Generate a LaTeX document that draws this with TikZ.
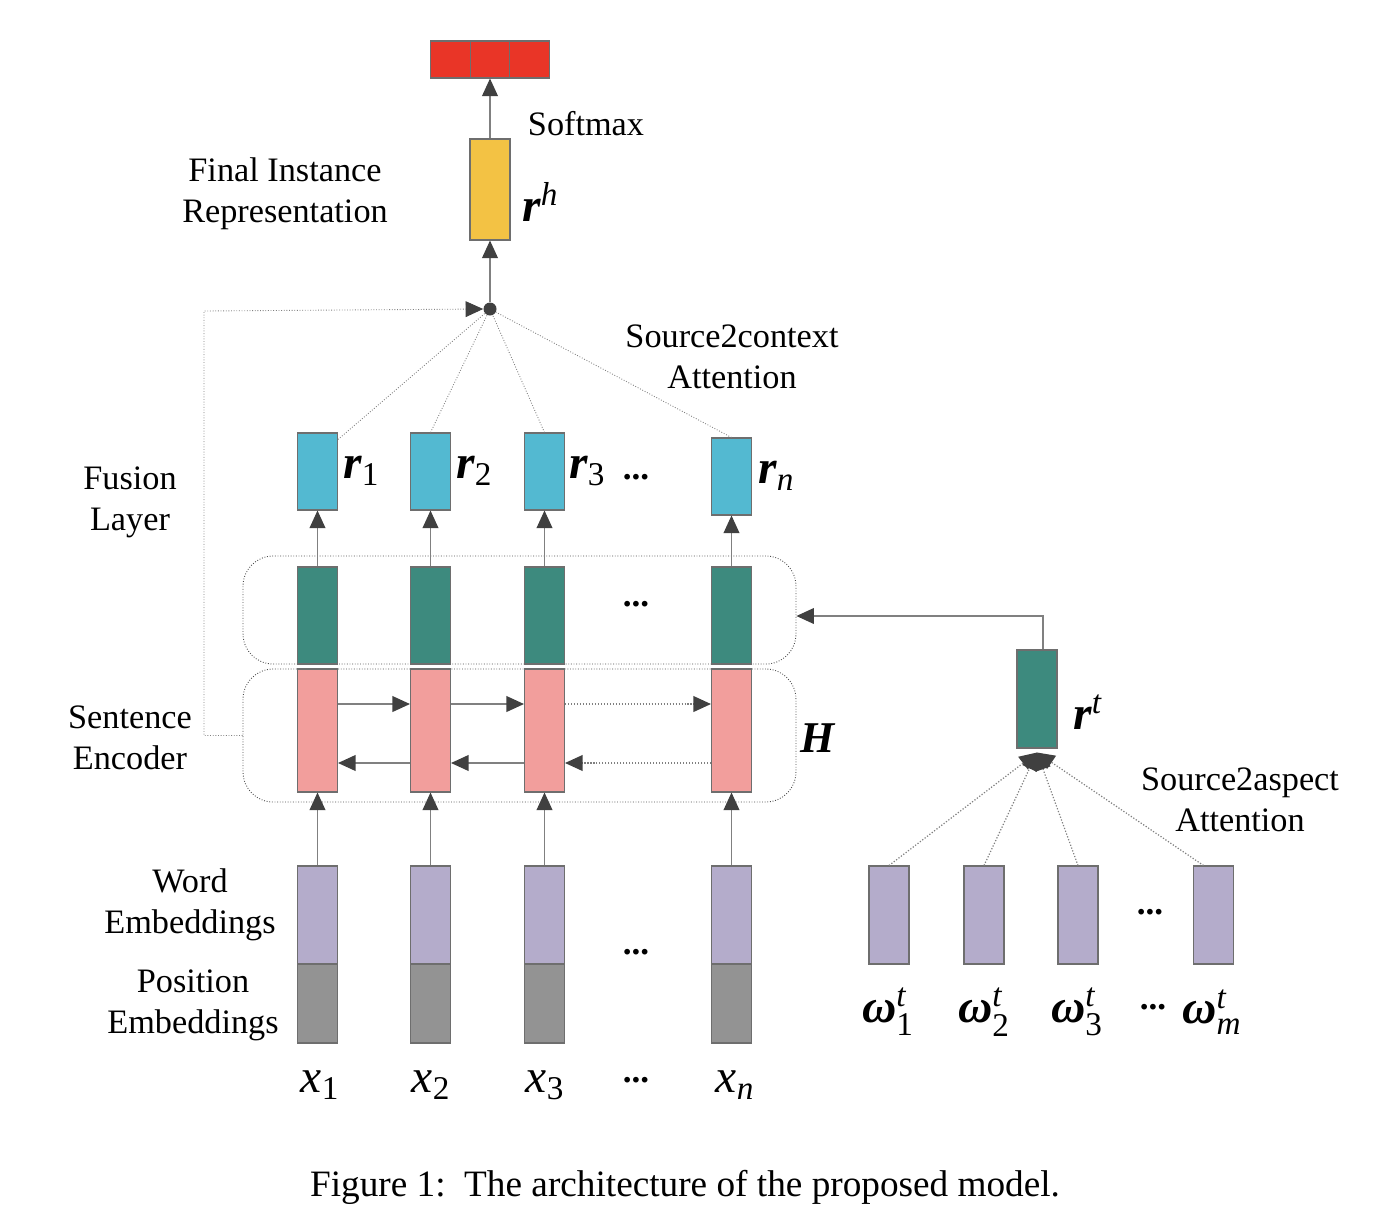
\documentclass[tikz,border=0pt]{standalone}
\usepackage{amsmath}
\usepackage{fontspec}
\setmainfont{Liberation Serif}
\usetikzlibrary{arrows.meta}

\definecolor{outred}{RGB}{233,53,39}
\definecolor{repyellow}{RGB}{243,194,68}
\definecolor{fuseblue}{RGB}{83,185,209}
\definecolor{fuseteal}{RGB}{61,138,126}
\definecolor{encpink}{RGB}{242,158,156}
\definecolor{embpurple}{RGB}{180,172,203}
\definecolor{posgray}{RGB}{147,147,147}
\definecolor{edgegray}{RGB}{110,110,110}
\definecolor{linegray}{RGB}{128,128,128}
\definecolor{tipgray}{RGB}{64,64,64}

\newcommand{\symsub}[2]{$\text{\bfseries\itshape #1}_{\text{#2}}$}
\newcommand{\symsup}[2]{$\text{\bfseries\itshape #1}^{\text{\itshape #2}}$}
\newcommand{\symboth}[3]{$\text{\bfseries\itshape #1}^{\text{\itshape #2}}_{\text{#3}}$}
\newcommand{\symx}[1]{$\text{\itshape x}_{\text{#1}}$}

\tikzset{
  cell/.style={draw=edgegray, line width=0.6pt, minimum width=0.8cm, inner sep=0pt},
  arr/.style={draw=linegray, line width=0.7pt, -{Triangle[length=10pt,width=9pt,color=tipgray]}},
  attn/.style={draw=linegray, line width=0.5pt, densely dotted},
  groupbox/.style={draw=black!70, line width=0.5pt, densely dotted, rounded corners=0.6cm, inner sep=0pt},
  lbl/.style={font=\fontsize{19.5}{23.3}\selectfont, align=center, inner sep=0pt},
  sym/.style={font=\fontsize{27}{30}\selectfont, inner sep=0pt},
  gap/.style={font=\fontsize{20}{20}\selectfont\bfseries, inner sep=0pt}
}

\begin{document}
\begin{tikzpicture}[x=0.02cm, y=-0.02cm]
    \useasboundingbox (0,0) rectangle (1392,1224);

    % grouping boxes
    \node[groupbox, minimum width=11.06cm, minimum height=2.16cm] (fusbox) at (519.5,610) {};
    \node[groupbox, minimum width=11.06cm, minimum height=2.66cm] (encbox) at (519.5,735.5) {};

    % softmax output
    \node[cell, fill=outred, minimum width=0.79cm, minimum height=0.74cm] (out1) at (450.5,59.5) {};
    \node[cell, fill=outred, minimum width=0.79cm, minimum height=0.74cm] (out2) at (490,59.5) {};
    \node[cell, fill=outred, minimum width=0.79cm, minimum height=0.74cm] (out3) at (529.5,59.5) {};

    % final instance representation
    \node[cell, fill=repyellow, minimum height=2.02cm] (rh) at (490,189.5) {};
    \node[circle, fill=tipgray, minimum size=0.26cm, inner sep=0pt] (dot) at (490,309) {};

    % fusion layer outputs
    \node[cell, fill=fuseblue, minimum height=1.54cm] (r1) at (317.5,471.5) {};
    \node[cell, fill=fuseblue, minimum height=1.54cm] (r2) at (430.5,471.5) {};
    \node[cell, fill=fuseblue, minimum height=1.54cm] (r3) at (544.5,471.5) {};
    \node[cell, fill=fuseblue, minimum height=1.54cm] (rn) at (731.5,476.5) {};

    % fusion layer
    \node[cell, fill=fuseteal, minimum height=1.94cm] (f1) at (317.5,615.5) {};
    \node[cell, fill=fuseteal, minimum height=1.94cm] (f2) at (430.5,615.5) {};
    \node[cell, fill=fuseteal, minimum height=1.94cm] (f3) at (544.5,615.5) {};
    \node[cell, fill=fuseteal, minimum height=1.94cm] (fn) at (731.5,615.5) {};

    % sentence encoder
    \node[cell, fill=encpink, minimum height=2.46cm] (h1) at (317.5,730.5) {};
    \node[cell, fill=encpink, minimum height=2.46cm] (h2) at (430.5,730.5) {};
    \node[cell, fill=encpink, minimum height=2.46cm] (h3) at (544.5,730.5) {};
    \node[cell, fill=encpink, minimum height=2.46cm] (hn) at (731.5,730.5) {};

    % word and position embeddings
    \node[cell, fill=embpurple, minimum height=1.96cm] (e1) at (317.5,915) {};
    \node[cell, fill=embpurple, minimum height=1.96cm] (e2) at (430.5,915) {};
    \node[cell, fill=embpurple, minimum height=1.96cm] (e3) at (544.5,915) {};
    \node[cell, fill=embpurple, minimum height=1.96cm] (en) at (731.5,915) {};
    \node[cell, fill=posgray, minimum height=1.58cm] (p1) at (317.5,1003.5) {};
    \node[cell, fill=posgray, minimum height=1.58cm] (p2) at (430.5,1003.5) {};
    \node[cell, fill=posgray, minimum height=1.58cm] (p3) at (544.5,1003.5) {};
    \node[cell, fill=posgray, minimum height=1.58cm] (pn) at (731.5,1003.5) {};

    % aspect side
    \node[cell, fill=fuseteal, minimum height=1.96cm] (rt) at (1037,699) {};
    \node[cell, fill=embpurple, minimum height=1.96cm] (a1) at (889,915) {};
    \node[cell, fill=embpurple, minimum height=1.96cm] (a2) at (984,915) {};
    \node[cell, fill=embpurple, minimum height=1.96cm] (a3) at (1078,915) {};
    \node[cell, fill=embpurple, minimum height=1.96cm] (am) at (1213.5,915) {};

    % connectors
    \draw[arr] (rh.north) -- (out2.south);
    \draw[arr] (dot.north) -- (rh.south);
    \draw[attn] ([yshift=-0.14cm]r1.north east) -- (dot);
    \draw[attn] (r2.north) -- (dot);
    \draw[attn] (r3.north) -- (dot);
    \draw[attn] (rn.north) -- (dot);
    \draw[attn, -{Triangle[length=10pt,width=9pt,color=tipgray]}] (encbox.west) -| (204,311) -- (dot.west);

    \draw[arr] (f1.north) -- (r1.south);
    \draw[arr] (f2.north) -- (r2.south);
    \draw[arr] (f3.north) -- (r3.south);
    \draw[arr] (fn.north) -- (rn.south);

    \draw[arr] ([yshift=0.53cm]h1.east) -- ([yshift=0.53cm]h2.west);
    \draw[arr] ([yshift=0.53cm]h2.east) -- ([yshift=0.53cm]h3.west);
    \draw[arr, densely dotted] ([yshift=0.53cm]h3.east) -- ([yshift=0.53cm]hn.west);
    \draw[arr] ([yshift=-0.65cm]h2.west) -- ([yshift=-0.65cm]h1.east);
    \draw[arr] ([yshift=-0.65cm]h3.west) -- ([yshift=-0.65cm]h2.east);
    \draw[arr, densely dotted] ([yshift=-0.65cm]hn.west) -- ([yshift=-0.65cm]h3.east);

    \draw[arr] (e1.north) -- (h1.south);
    \draw[arr] (e2.north) -- (h2.south);
    \draw[arr] (e3.north) -- (h3.south);
    \draw[arr] (en.north) -- (hn.south);

    \draw[arr] ([xshift=0.12cm]rt.north) |- ([yshift=-0.12cm]fusbox.east);
    \draw[arr, densely dotted] (a1.north) -- ([yshift=-0.08cm]rt.south);
    \draw[arr, densely dotted] (a2.north) -- ([yshift=-0.08cm]rt.south);
    \draw[arr, densely dotted] (a3.north) -- ([yshift=-0.08cm]rt.south);
    \draw[arr, densely dotted] ([xshift=-0.2cm]am.north) -- ([yshift=-0.08cm]rt.south);

    % labels
    \node[lbl] (softmaxlbl) at (586,124) {Softmax};
    \node[lbl] (finallbl) at (285,194) {Final Instance\\Representation};
    \node[lbl] (ctxlbl) at (732,357) {Source2context\\Attention};
    \node[lbl] (fuselbl) at (130,502) {Fusion\\Layer};
    \node[lbl] (enclbl) at (130,738) {Sentence\\Encoder};
    \node[lbl] (wordlbl) at (190,905) {Word\\Embeddings};
    \node[lbl] (poslbl) at (193,1005) {Position\\Embeddings};
    \node[lbl] (asplbl) at (1240,800) {Source2aspect\\Attention};
    \node[lbl, font=\fontsize{21.2}{25}\selectfont] (caption) at (685,1187) {Figure 1:\ \ The architecture of the proposed model.};

    \node[sym, anchor=west] (rhlbl) at (522,202) {\symsup{r}{h}};
    \node[sym, anchor=west] (r1lbl) at (343,471) {\symsub{r}{1}};
    \node[sym, anchor=west] (r2lbl) at (456,471) {\symsub{r}{2}};
    \node[sym, anchor=west] (r3lbl) at (569,471) {\symsub{r}{3}};
    \node[sym, anchor=west] (rnlbl) at (758,476) {\symsub{r}{\itshape n}};
    \node[sym, anchor=west] (rtlbl) at (1073,712) {\symsup{r}{t}};
    \node[sym, font=\fontsize{25}{30}\selectfont\bfseries\itshape] (hlbl) at (818,738) {H};

    \node[sym] (x1lbl) at (320,1085) {\symx{1}};
    \node[sym] (x2lbl) at (431,1085) {\symx{2}};
    \node[sym] (x3lbl) at (545,1085) {\symx{3}};
    \node[sym] (xnlbl) at (735,1085) {\symx{\itshape n}};

    \node[sym] (w1lbl) at (888,1012) {\symboth{ω}{t}{1}};
    \node[sym] (w2lbl) at (984,1012) {\symboth{ω}{t}{2}};
    \node[sym] (w3lbl) at (1077,1012) {\symboth{ω}{t}{3}};
    \node[sym] (wmlbl) at (1212,1012) {\symboth{ω}{t}{\itshape m}};

    % gaps
    \node[gap] (gapr) at (636,477) {...};
    \node[gap] (gapf) at (636,604) {...};
    \node[gap] (gape) at (636,952) {...};
    \node[gap] (gapx) at (636,1080) {...};
    \node[gap] (gapa) at (1150,912) {...};
    \node[gap] (gapw) at (1153,1007) {...};
\end{tikzpicture}
\end{document}
